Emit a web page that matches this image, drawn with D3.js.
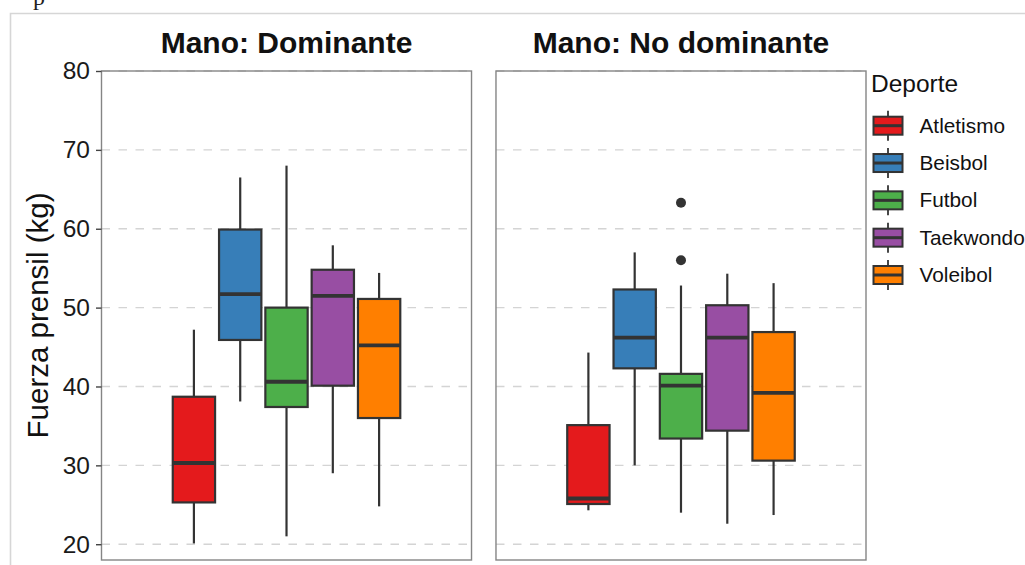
<!DOCTYPE html>
<html>
<head>
<meta charset="utf-8">
<script src="https://cdn.jsdelivr.net/npm/d3@7"></script>
<style>
  body { margin: 0; background: #fff; }
  svg { display: block; font-family: "Liberation Sans", Arial, sans-serif; }
</style>
</head>
<body>
<div id="chart"></div>
<script>
// categories
const sports = ["Atletismo", "Beisbol", "Futbol", "Taekwondo", "Voleibol"];
const sportColors = ["#E41A1C", "#377EB8", "#4DAF4A", "#984EA3", "#FF7F00"];
const panels = ["Mano: Dominante", "Mano: No dominante"];
const yTicks = [20, 30, 40, 50, 60, 70, 80];

// box stats, dominant hand (same order as sports)
const domLow = [20.1, 38.1, 21.0, 29.0, 24.8];
const domQ1 = [25.3, 45.9, 37.4, 40.1, 36.0];
const domMed = [30.3, 51.7, 40.6, 51.5, 45.2];
const domQ3 = [38.7, 59.9, 50.0, 54.8, 51.1];
const domHigh = [47.2, 66.5, 68.0, 57.9, 54.4];

// box stats, non dominant hand
const nonLow = [24.3, 30.0, 24.0, 22.6, 23.7];
const nonQ1 = [25.1, 42.3, 33.4, 34.4, 30.6];
const nonMed = [25.8, 46.2, 40.1, 46.2, 39.2];
const nonQ3 = [35.1, 52.3, 41.6, 50.3, 46.9];
const nonHigh = [44.3, 57.0, 52.8, 54.3, 53.1];

// outliers
const nonOutSport = ["Futbol", "Futbol"];
const nonOutValue = [63.3, 56.0];

function main() {
    const width = 1025, height = 565;

    const svg = d3.select("#chart").append("svg")
        .attr("width", width)
        .attr("height", height);

    // light frame around the plot
    svg.append("path")
        .attr("d", "M10.5,565 V13.5 H1025")
        .attr("fill", "none")
        .attr("stroke", "#d6d6d6")
        .attr("stroke-width", 1.6);

    svg.append("text")
        .attr("x", 33).attr("y", 5)
        .style("font-family", "'Liberation Serif', serif")
        .style("font-size", "24px")
        .attr("fill", "#222")
        .text("p");

    const y = d3.scaleLinear().domain([18, 80]).range([560, 71]);

    const px = d3.scaleBand()
        .domain(panels)
        .range([101.5, 866])
        .paddingInner(0.062)
        .paddingOuter(0);

    const pw = px.bandwidth();

    const stats = [
        { low: domLow, q1: domQ1, med: domMed, q3: domQ3, high: domHigh, outS: [], outV: [] },
        { low: nonLow, q1: nonQ1, med: nonMed, q3: nonQ3, high: nonHigh, outS: nonOutSport, outV: nonOutValue }
    ];

    const color = d3.scaleOrdinal().domain(sports).range(sportColors);

    panels.forEach((p, pi) => {
        const x0 = px(p);
        const g = svg.append("g");

        // grid
        g.selectAll(".grid")
            .data(yTicks)
            .join("line")
            .attr("x1", x0).attr("x2", x0 + pw)
            .attr("y1", d => y(d)).attr("y2", d => y(d))
            .attr("stroke", "#d4d4d4")
            .attr("stroke-width", 1.3)
            .attr("stroke-dasharray", "8.5,8.5");

        const cx = x0 + pw / 2;
        const xs = d3.scaleBand()
            .domain(sports)
            .range([cx - 115.75, cx + 115.75])
            .paddingInner(0.086)
            .paddingOuter(0.043);
        const bw = xs.bandwidth();
        const s = stats[pi];

        const rows = sports.map((sp, i) => ({
            sport: sp, low: s.low[i], q1: s.q1[i], med: s.med[i], q3: s.q3[i], high: s.high[i]
        }));

        const box = g.selectAll(".box").data(rows).join("g");

        // whiskers
        box.append("line")
            .attr("x1", d => xs(d.sport) + bw / 2).attr("x2", d => xs(d.sport) + bw / 2)
            .attr("y1", d => y(d.high)).attr("y2", d => y(d.q3))
            .attr("stroke", "#333").attr("stroke-width", 2.2);
        box.append("line")
            .attr("x1", d => xs(d.sport) + bw / 2).attr("x2", d => xs(d.sport) + bw / 2)
            .attr("y1", d => y(d.q1)).attr("y2", d => y(d.low))
            .attr("stroke", "#333").attr("stroke-width", 2.2);

        box.append("rect")
            .attr("x", d => xs(d.sport))
            .attr("y", d => y(d.q3))
            .attr("width", bw)
            .attr("height", d => y(d.q1) - y(d.q3))
            .attr("fill", d => color(d.sport))
            .attr("stroke", "#333")
            .attr("stroke-width", 2.2);

        box.append("line")
            .attr("x1", d => xs(d.sport)).attr("x2", d => xs(d.sport) + bw)
            .attr("y1", d => y(d.med)).attr("y2", d => y(d.med))
            .attr("stroke", "#333").attr("stroke-width", 3.8);

        g.selectAll(".out")
            .data(s.outV.map((v, i) => ({ sport: s.outS[i], v: v })))
            .join("circle")
            .attr("cx", d => xs(d.sport) + bw / 2)
            .attr("cy", d => y(d.v))
            .attr("r", 5)
            .attr("fill", "#333");

        // panel border
        g.append("rect")
            .attr("x", x0).attr("y", y(80))
            .attr("width", pw).attr("height", y(18) - y(80))
            .attr("fill", "none")
            .attr("stroke", "#858585")
            .attr("stroke-width", 1.4);

        // strip title
        svg.append("text")
            .attr("x", cx).attr("y", 52.5)
            .attr("text-anchor", "middle")
            .style("font-size", "30px")
            .style("font-weight", "bold")
            .attr("fill", "#111")
            .text(p);
    });

    // y axis
    const yAxis = svg.append("g")
        .attr("transform", "translate(" + px(panels[0]) + ",0)")
        .call(d3.axisLeft(y).tickValues(yTicks).tickSize(5.5).tickPadding(6));
    yAxis.select(".domain").remove();
    yAxis.selectAll(".tick line").attr("stroke", "#444").attr("stroke-width", 1.4);
    yAxis.selectAll(".tick text")
        .style("font-family", "'Liberation Sans', Arial, sans-serif")
        .style("font-size", "24.5px")
        .attr("fill", "#1a1a1a");

    svg.append("text")
        .attr("transform", "translate(48," + (y(18) + y(80)) / 2 + ") rotate(-90)")
        .attr("text-anchor", "middle")
        .style("font-size", "29.5px")
        .attr("fill", "#111")
        .text("Fuerza prensil (kg)");

    // legend
    const lg = svg.append("g").attr("transform", "translate(871,0)");
    lg.append("text")
        .attr("x", 0).attr("y", 92)
        .style("font-size", "24.5px")
        .attr("fill", "#111")
        .text("Deporte");

    const ly = d3.scalePoint().domain(sports).range([125.7, 275]);
    const key = lg.selectAll(".key").data(sports).join("g")
        .attr("transform", d => "translate(0," + ly(d) + ")");
    key.append("line")
        .attr("x1", 17).attr("x2", 17).attr("y1", -15).attr("y2", 15)
        .attr("stroke", "#333").attr("stroke-width", 1.8);
    key.append("rect")
        .attr("x", 2.5).attr("y", -9).attr("width", 29).attr("height", 18)
        .attr("fill", d => color(d))
        .attr("stroke", "#333").attr("stroke-width", 2);
    key.append("line")
        .attr("x1", 2.5).attr("x2", 31.5).attr("y1", 0).attr("y2", 0)
        .attr("stroke", "#333").attr("stroke-width", 3);
    key.append("text")
        .attr("x", 48.5).attr("y", 7)
        .style("font-size", "20.8px")
        .attr("fill", "#111")
        .text(d => d);
}
main();
</script>
</body>
</html>
